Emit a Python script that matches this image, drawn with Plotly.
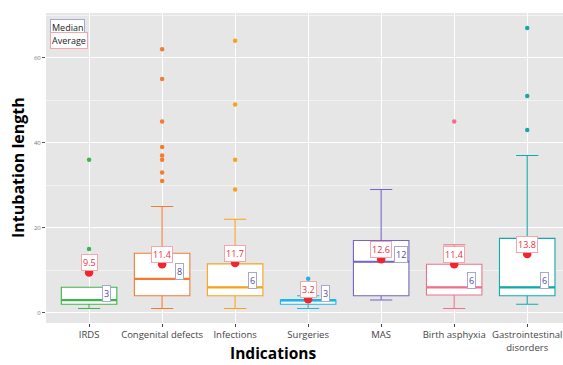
import plotly.graph_objects as go

categories = ["IRDS", "Congenital defects", "Infections", "Surgeries", "MAS",
              "Birth asphyxia", "Gastrointestinal<br>disorders"]
q1 = [2, 4, 4, 2, 4, 4.2, 4]
median = [3, 8, 6, 3, 12, 6, 6]
q3 = [6, 14, 11.5, 3, 17, 11.4, 17.5]
lower_fence = [1, 1, 1, 1, 3, 1, 2]
upper_fence = [6, 25, 22, 4, 29, 16, 37]
mean = [9.5, 11.4, 11.7, 3.2, 12.6, 11.4, 13.8]
outliers = [
    [15, 36],
    [31, 33, 36, 37, 39, 45, 55, 62],
    [29, 36, 49, 64],
    [7, 8],
    [],
    [45],
    [43, 51, 67],
]
colors = ["#3DB54A", "#F47B30", "#F5A31E", "#1EB4E6", "#7466C4", "#F0708C", "#14A9A9"]
y_ticks = [0, 20, 40, 60]
y_minor = [10, 30, 50, 70]

FONT = "Open Sans"
BOX_W = 0.76

fig = go.Figure()

for i, cat in enumerate(categories):
    fig.add_trace(go.Box(
        x=[i], q1=[q1[i]], median=[median[i]], q3=[q3[i]],
        lowerfence=[lower_fence[i]], upperfence=[upper_fence[i]],
        width=BOX_W, whiskerwidth=0.4, boxpoints=False,
        line=dict(color=colors[i], width=1.1), fillcolor="white",
        showlegend=False, hoverinfo="skip"))
    # thicker median line
    fig.add_trace(go.Scatter(
        x=[i - BOX_W / 2, i + BOX_W / 2], y=[median[i], median[i]],
        mode="lines", line=dict(color=colors[i], width=2.2),
        showlegend=False, hoverinfo="skip"))
    if outliers[i]:
        fig.add_trace(go.Scatter(
            x=[i] * len(outliers[i]), y=outliers[i], mode="markers",
            marker=dict(color=colors[i], size=4.5),
            showlegend=False, hoverinfo="skip"))

fig.add_trace(go.Scatter(
    x=list(range(len(categories))), y=mean, mode="markers",
    marker=dict(color="#F0262E", size=8.5), showlegend=False, hoverinfo="skip"))

annotations = []
for i in range(len(categories)):
    annotations.append(dict(
        x=i, y=mean[i], xref="x", yref="y", text=f"{mean[i]}", showarrow=False,
        yshift=10, font=dict(family=FONT, size=9, color="#E8323E"),
        bgcolor="white", bordercolor="#F4A6AC", borderwidth=1, borderpad=1))
    annotations.append(dict(
        x=i, y=median[i], xref="x", yref="y", text=f"{median[i]}", showarrow=False,
        xanchor="left", xshift=13, yshift=7,
        font=dict(family=FONT, size=9, color="#4B4BA0"),
        bgcolor="white", bordercolor="#A8A8CC", borderwidth=1, borderpad=1))

annotations += [
    dict(x=0.008, y=0.98, xref="paper", yref="paper", xanchor="left", showarrow=False,
         text="Median", font=dict(family=FONT, size=9, color="#222222"),
         bgcolor="white", bordercolor="#A8A8CC", borderwidth=1, borderpad=1),
    dict(x=0.008, y=0.938, xref="paper", yref="paper", xanchor="left", showarrow=False,
         text="Average", font=dict(family=FONT, size=9, color="#222222"),
         bgcolor="white", bordercolor="#F4A6AC", borderwidth=1, borderpad=1),
    dict(x=0.439, y=-0.097, xref="paper", yref="paper", xanchor="center", yanchor="middle",
         showarrow=False, text="<b>Indications</b>",
         font=dict(family=FONT, size=15.5, color="black")),
    dict(x=-0.029, y=0.5, xref="paper", yref="paper", xanchor="right", yanchor="middle",
         showarrow=False, text="<b>Intubation length</b>", textangle=-90,
         font=dict(family=FONT, size=16, color="black")),
]

fig.update_layout(
    width=563, height=365,
    margin=dict(l=46, r=0, t=13, b=42, autoexpand=False),
    paper_bgcolor="white", plot_bgcolor="#E6E6E6",
    annotations=annotations,
    showlegend=False,
    xaxis=dict(range=[-0.59, 6.49], tickmode="array", automargin=False,
               tickvals=list(range(len(categories))), ticktext=categories,
               showgrid=True, gridcolor="white", gridwidth=1, zeroline=False,
               ticks="outside", ticklen=3, tickcolor="#444444",
               tickfont=dict(family=FONT, size=9.5, color="#444444")),
    yaxis=dict(range=[-2.4, 70.5], tickmode="array", tickvals=y_ticks, automargin=False,
               showgrid=True, gridcolor="white", gridwidth=1.1, zeroline=False,
               ticks="outside", ticklen=3, tickcolor="#555555",
               tickfont=dict(family=FONT, size=6, color="#777777"),
               minor=dict(tickmode="array", tickvals=y_minor, showgrid=True,
                          gridcolor="#F3F3F3", gridwidth=0.6, ticks="")),
)

fig.write_html("out.html", config={"displayModeBar": False},
               post_script="document.body.style.margin='0px';"
                           "document.body.style.overflow='hidden';")
